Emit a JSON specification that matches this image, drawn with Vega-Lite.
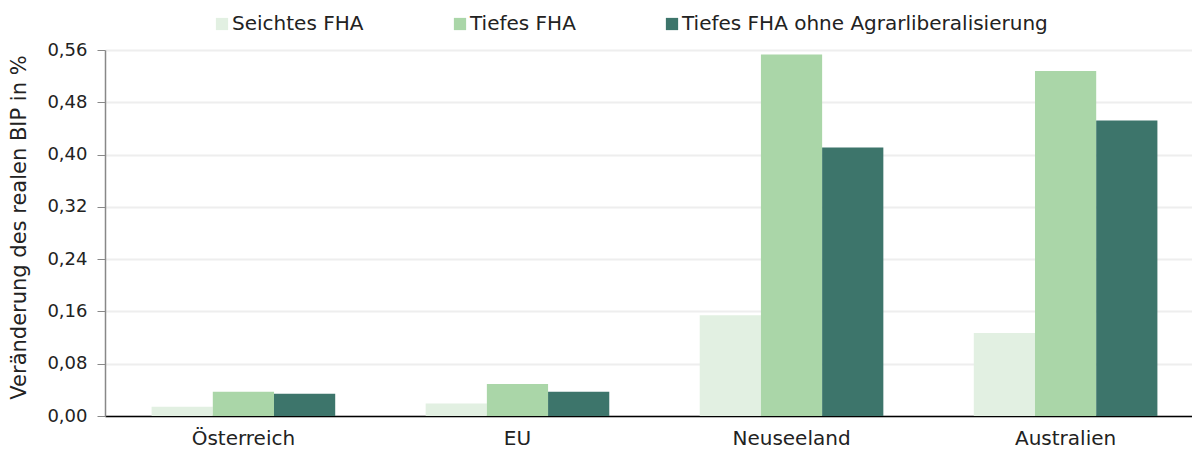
{
  "$schema": "https://vega.github.io/schema/vega-lite/v6.json",
  "width": 1099,
  "height": 366,
  "autosize": {"type": "none"},
  "padding": {"left": 105, "top": 50, "right": 0, "bottom": 37},
  "config": {"font": "DejaVu Sans", "view": {"stroke": null}},
  "data": {
    "values": [
      {"Land": "Österreich", "Szenario": "Seichtes FHA", "Wert": 0.014},
      {"Land": "Österreich", "Szenario": "Tiefes FHA", "Wert": 0.037},
      {"Land": "Österreich", "Szenario": "Tiefes FHA ohne Agrarliberalisierung", "Wert": 0.034},
      {"Land": "EU", "Szenario": "Seichtes FHA", "Wert": 0.019},
      {"Land": "EU", "Szenario": "Tiefes FHA", "Wert": 0.049},
      {"Land": "EU", "Szenario": "Tiefes FHA ohne Agrarliberalisierung", "Wert": 0.037},
      {"Land": "Neuseeland", "Szenario": "Seichtes FHA", "Wert": 0.154},
      {"Land": "Neuseeland", "Szenario": "Tiefes FHA", "Wert": 0.553},
      {"Land": "Neuseeland", "Szenario": "Tiefes FHA ohne Agrarliberalisierung", "Wert": 0.411},
      {"Land": "Australien", "Szenario": "Seichtes FHA", "Wert": 0.127},
      {"Land": "Australien", "Szenario": "Tiefes FHA", "Wert": 0.528},
      {"Land": "Australien", "Szenario": "Tiefes FHA ohne Agrarliberalisierung", "Wert": 0.452}
    ]
  },
  "mark": {"type": "bar"},
  "encoding": {
    "x": {
      "field": "Land",
      "type": "nominal",
      "sort": ["Österreich", "EU", "Neuseeland", "Australien"],
      "scale": {"paddingInner": 0.33, "paddingOuter": 0.17},
      "axis": {
        "title": null,
        "labelAngle": 0,
        "labelFontSize": 20,
        "labelColor": "#222222",
        "domainColor": "#000000",
        "domainWidth": 1.5,
        "ticks": false,
        "labelPadding": 12
      }
    },
    "xOffset": {
      "field": "Szenario",
      "type": "nominal",
      "sort": ["Seichtes FHA", "Tiefes FHA", "Tiefes FHA ohne Agrarliberalisierung"]
    },
    "y": {
      "field": "Wert",
      "type": "quantitative",
      "scale": {"domain": [0, 0.56], "nice": false},
      "axis": {
        "values": [0, 0.08, 0.16, 0.24, 0.32, 0.40, 0.48, 0.56],
        "labelExpr": "replace(format(datum.value, '.2f'), '.', ',')",
        "title": "Veränderung des realen BIP in %",
        "titleFontSize": 21,
        "titleFontWeight": "normal",
        "titleColor": "#222222",
        "titlePadding": 17,
        "titleY": 177,
        "labelFontSize": 18,
        "labelColor": "#222222",
        "labelPadding": 10,
        "gridColor": "#eeeeee",
        "gridWidth": 2,
        "domainColor": "#888888",
        "domainWidth": 1.5,
        "tickColor": "#888888",
        "tickSize": 8
      }
    },
    "color": {
      "field": "Szenario",
      "type": "nominal",
      "scale": {
        "domain": ["Seichtes FHA", "Tiefes FHA", "Tiefes FHA ohne Agrarliberalisierung"],
        "range": ["#e2f0e2", "#aad6a8", "#3d756b"]
      },
      "legend": {
        "title": null,
        "orient": "none",
        "direction": "horizontal",
        "legendX": 107,
        "legendY": -36,
        "padding": 0,
        "symbolType": "square",
        "symbolSize": 150,
        "symbolStrokeWidth": 0,
        "labelFontSize": 20,
        "labelColor": "#222222",
        "labelOffset": 0,
        "columnPadding": 86,
        "labelLimit": 500
      }
    }
  }
}
